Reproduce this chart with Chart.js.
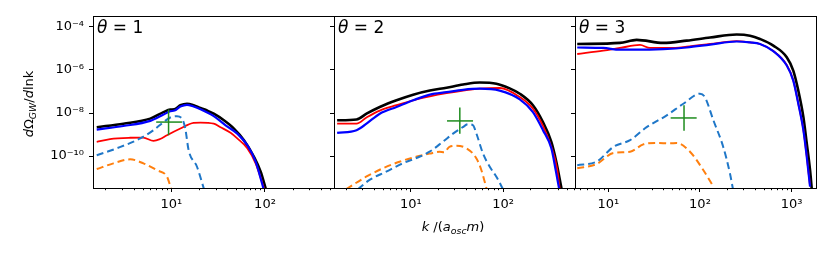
<!DOCTYPE html>
<html>
<head>
<meta charset="utf-8">
<script src="https://cdn.jsdelivr.net/npm/chart.js@4.4.1/dist/chart.umd.min.js"></script>
<style>
  html, body { margin: 0; padding: 0; background: #fff; }
  #wrap { position: relative; width: 830px; height: 260px; font-family: 'DejaVu Sans', sans-serif; color: #000; }
  canvas { position: absolute; left: 0; top: 0; }
  .lbl { position: absolute; white-space: nowrap; }
  .theta { font-size: 17px; top: 17px; }
  .axlab { font-size: 13px; text-align: center; height: 16px; line-height: 16px; }
  sub { font-size: 72%; vertical-align: -0.3em; line-height: 0; }
</style>
</head>
<body>
<div id="wrap">
  <canvas id="c1" width="830" height="260"></canvas>
  <canvas id="c2" width="830" height="260"></canvas>
  <canvas id="c3" width="830" height="260"></canvas>
  <div class="lbl theta" style="left:97px"><i>θ</i> = 1</div>
  <div class="lbl theta" style="left:338px"><i>θ</i> = 2</div>
  <div class="lbl theta" style="left:579px"><i>θ</i> = 3</div>
  <div class="lbl axlab" style="left:-31px; top:96px; width:120px; transform: rotate(-90deg);"><i>d</i>Ω<sub><i>GW</i></sub>/<i>d</i>lnk</div>
  <div class="lbl axlab" style="left:393px; top:219px; width:120px;"><i>k</i> /(<i>a</i><sub><i>osc</i></sub><i>m</i>)</div>
</div>
<script>
// axis ticks
const yTickValues = [1e-10, 1e-8, 1e-6, 1e-4];
const yTickLabels = ['10⁻¹⁰', '10⁻⁸', '10⁻⁶', '10⁻⁴'];
const xTickValues = [10, 100, 1000];
const xTickLabels = ['10¹', '10²', '10³'];

// panel x ranges (k) and shared y range
const xRange1 = [1.46, 545];
const xRange2 = [1.47, 603];
const xRange3 = [4.34, 1840];
const yRange = [3.3e-12, 3.2e-4];

// theta = 1  ([k, dOmega/dlnk])
const black1 = [[1.6,2.2e-9],[3.08,3.2e-9],[5.96,5.5e-9],[8.26,1.1e-8],[9.75,1.45e-8],[10.8,1.5e-8],[12.5,2.3e-8],[14.7,2.7e-8],[17.3,2.3e-8],[20.5,1.7e-8],[24.1,1.3e-8],[28.4,9.3e-9],[36.4,4.6e-9],[46.6,1.9e-9],[59.6,5.5e-10],[76.2,9.3e-11],[89.9,1.9e-11],[101.6,3.2e-12]];
const blue1 = [[1.6,1.7e-9],[3.08,2.5e-9],[5.96,4.3e-9],[8.26,8.5e-9],[9.75,1.2e-8],[10.8,1.3e-8],[12.5,2.0e-8],[14.7,2.4e-8],[17.3,2.0e-8],[20.5,1.5e-8],[28.4,7.2e-9],[38,2.7e-9],[50.6,1.1e-9],[64.7,3.2e-10],[79.4,5.5e-11],[96.2,3.2e-12]];
const red1 = [[1.6,4.6e-10],[2.22,6.2e-10],[3.64,7.1e-10],[5.01,7.2e-10],[6.46,5.1e-10],[7.59,6.2e-10],[9.0,9.3e-10],[12.5,1.9e-9],[17.3,3.5e-9],[20.5,3.6e-9],[28.4,3.2e-9],[33.5,2.2e-9],[42.9,1.2e-9],[50.6,6.6e-10],[64.7,2.3e-10],[79.4,4.6e-11],[93.8,5.5e-12],[97.5,3.2e-12]];
const dashBlue1 = [[1.6,1.1e-10],[2.62,2.3e-10],[4.66,6.6e-10],[6.46,1.6e-9],[8.28,3.8e-9],[9.75,6.2e-9],[11.5,7.1e-9],[13.0,5.5e-9],[14.1,1.9e-9],[15.3,1.9e-10],[18.8,3.2e-11],[22.2,3.2e-12]];
const dashOrange1 = [[1.6,2.5e-11],[2.41,4.6e-11],[3.64,7.1e-11],[5.05,4.6e-11],[7.03,2.2e-11],[9.0,1.1e-11],[9.93,3.2e-12]];

// theta = 2
const black2 = [[1.59,4.6e-9],[2.58,5.0e-9],[3.31,9.3e-9],[4.61,1.9e-8],[7.0,3.9e-8],[10.6,7.1e-8],[16.1,1.1e-7],[24.4,1.5e-7],[36.9,2.1e-7],[56,2.6e-7],[84.7,2.3e-7],[118,1.4e-7],[152,7.9e-8],[211,2.3e-8],[271,3.8e-9],[334,4.6e-10],[378,5.5e-11],[430,3.2e-12]];
const blue2 = [[1.59,1.2e-9],[2.58,1.6e-9],[3.31,3.2e-9],[4.61,9.3e-9],[7.0,1.9e-8],[10.6,3.9e-8],[16.1,7.2e-8],[24.4,9.3e-8],[36.9,1.2e-7],[56,1.35e-7],[92,1.1e-7],[152,4.3e-8],[211,1.1e-8],[271,1.6e-9],[334,2.3e-10],[375,1.9e-11],[405,3.2e-12]];
const red2 = [[1.59,3.2e-9],[2.58,3.2e-9],[3.31,6.2e-9],[4.61,1.3e-8],[7.0,2.3e-8],[10.6,3.9e-8],[16.1,5.9e-8],[24.4,8.3e-8],[36.9,1.1e-7],[56,1.35e-7],[92,1.45e-7],[152,5.5e-8],[211,1.6e-8],[271,2.5e-9],[334,2.7e-10],[385,2.7e-11],[411,3.2e-12]];
const dashBlue2 = [[2.67,2.9e-12],[3.57,7.8e-12],[5.41,1.9e-11],[8.18,4.6e-11],[12.4,9.3e-11],[16,1.6e-10],[22.2,4.6e-10],[28.7,1.1e-9],[36.6,2.2e-9],[41.7,3.0e-9],[47.3,2.7e-9],[51.5,1.1e-9],[60.7,1.3e-10],[71.8,3.2e-11],[84.7,1.1e-11],[100,2.9e-12]];
const dashOrange2 = [[1.99,2.9e-12],[3.28,1.1e-11],[4.98,2.7e-11],[7.55,5.5e-11],[11.4,9.3e-11],[16,1.3e-10],[20.5,1.6e-10],[23,1.5e-10],[26.2,2.7e-10],[31.3,3.0e-10],[40.1,2.3e-10],[51.5,7.8e-11],[58.3,2.2e-11],[66.1,3.2e-12]];

// theta = 3
const black3 = [[4.59,1.6e-5],[13.4,1.8e-5],[20.4,2.5e-5],[39.8,1.8e-5],[71.6,2.3e-5],[129,3.2e-5],[251,4.4e-5],[351,3.9e-5],[451,2.75e-5],[630,1.35e-5],[883,3.9e-6],[1040,9.3e-7],[1180,1.1e-7],[1340,6.6e-9],[1459,3.9e-10],[1585,2.2e-11],[1652,3.2e-12]];
const blue3 = [[4.59,1.1e-5],[8.81,1.05e-5],[13.4,8.7e-6],[20.4,8.7e-6],[39.8,9.3e-6],[71.6,1.1e-5],[129,1.5e-5],[251,2.1e-5],[351,1.9e-5],[451,1.6e-5],[630,7.4e-6],[883,1.6e-6],[1040,3.2e-7],[1180,2.7e-8],[1340,1.6e-9],[1459,9.3e-11],[1585,3.8e-12]];
const red3 = [[4.59,5.5e-6],[8.81,7.9e-6],[13.4,1.05e-5],[22.2,1.45e-5],[28.5,1.05e-5],[47.1,1.05e-5],[71.6,1.2e-5],[129,1.6e-5],[251,2.2e-5],[351,1.9e-5],[451,1.6e-5],[630,7.6e-6],[883,1.7e-6],[1040,3.3e-7],[1180,2.8e-8],[1340,1.7e-9],[1459,1.0e-10],[1585,4e-12]];
const dashBlue3 = [[4.59,3.8e-11],[7.46,5.5e-11],[11.4,2.7e-10],[17.3,5.5e-10],[26.2,2.2e-9],[43.4,7.8e-9],[65.8,2.7e-8],[100,7.9e-8],[113,5.5e-8],[140,4.6e-9],[179,2.7e-10],[212,1.6e-11],[228,3.2e-12]];
const dashOrange3 = [[4.59,2.7e-11],[7.46,4.3e-11],[11.4,1.4e-10],[17.3,1.6e-10],[24.1,3.5e-10],[33.7,4.1e-10],[47.1,3.9e-10],[55.7,4.1e-10],[77.8,1.6e-10],[109,2.2e-11],[140,3.8e-12]];

// green error crosses, one per panel
const crossK = [9.35, 34.0, 67.0];
const crossKLo = [6.9, 24.7, 47.9];
const crossKHi = [13.0, 47.3, 92.0];
const crossY = [3.8e-9, 4.3e-9, 5.9e-9];
const crossYLo = [9.3e-10, 1.1e-9, 1.5e-9];
const crossYHi = [1.45e-8, 1.8e-8, 2.3e-8];

const GREEN = '#1e8c1e';
const DBLUE = '#1f77c8';
const ORANGE = '#ff7f0e';

// draw the closed box round each panel
const framePlugin = {
  id: 'frame',
  afterDatasetsDraw(chart) {
    const { ctx, chartArea: a } = chart;
    ctx.save();
    ctx.strokeStyle = '#000';
    ctx.lineWidth = 1;
    ctx.strokeRect(Math.round(a.left) + 0.5, Math.round(a.top) + 0.5,
      Math.round(a.right - a.left), Math.round(a.bottom - a.top));
    ctx.restore();
  }
};

function minorTicks(range) {
  const out = [];
  for (let d = 1; d <= 1000; d *= 10) {
    for (let m = 2; m <= 9; m++) {
      const v = m * d;
      if (v > range[0] && v < range[1]) out.push(v);
    }
  }
  return out;
}

function makePanel(id, idx, xRange, left, right, curves) {
  const showY = idx === 0;
  const yWidth = showY ? 93 : 6;
  const majors = xTickValues.filter(v => v > xRange[0] && v < xRange[1]);
  const xTicks = majors.concat(minorTicks(xRange)).sort((a, b) => a - b);

  const line = (data, color, width, dash, smooth) => ({
    data, borderColor: color, borderWidth: width, borderDash: dash || [],
    pointRadius: 0, tension: 0, fill: false, clip: 0,
    cubicInterpolationMode: smooth ? 'monotone' : 'default'
  });

  // first dataset is drawn on top
  const datasets = [
    line([[crossKLo[idx], crossY[idx]], [crossKHi[idx], crossY[idx]]], GREEN, 1.5),
    line([[crossK[idx], crossYLo[idx]], [crossK[idx], crossYHi[idx]]], GREEN, 1.5),
    line(curves.dashBlue, DBLUE, 2, [7, 4], true),
    line(curves.dashOrange, ORANGE, 2, [7, 4], true),
    line(curves.blue, '#0000ff', 2.2, null, true),
    line(curves.red, '#ff0000', 1.8, null, true),
    line(curves.black, '#000000', 2.6, null, true)
  ];

  return new Chart(document.getElementById(id), {
    type: 'line',
    data: { datasets },
    plugins: [framePlugin],
    options: {
      responsive: false,
      animation: false,
      devicePixelRatio: 1,
      layout: { padding: { left: left - yWidth, right: 830 - right, top: 16, bottom: 260 - 188 - 40 } },
      plugins: { legend: { display: false }, tooltip: { enabled: false } },
      scales: {
        x: {
          type: 'logarithmic',
          min: xRange[0], max: xRange[1],
          border: { display: false },
          grid: {
            drawOnChartArea: false, tickLength: 4, tickColor: '#000', tickWidth: 1,
            tickBorderDash: (c) => (c.tick && xTickValues.includes(c.tick.value)) ? [] : [2.2, 20]
          },
          afterBuildTicks: (s) => { s.ticks = xTicks.map(v => ({ value: v })); },
          afterFit: (s) => { s.height = 40; },
          ticks: {
            autoSkip: false, maxRotation: 0, minRotation: 0, padding: 5, color: '#000',
            font: { family: 'DejaVu Sans', size: 13 },
            callback: (v) => { const i = xTickValues.indexOf(v); return i >= 0 ? xTickLabels[i] : ''; }
          }
        },
        y: {
          type: 'logarithmic',
          min: yRange[0], max: yRange[1],
          border: { display: false },
          grid: { drawOnChartArea: false, tickLength: 4, tickColor: '#000', tickWidth: 1 },
          afterBuildTicks: (s) => { s.ticks = yTickValues.map(v => ({ value: v })); },
          afterFit: (s) => { s.width = yWidth; },
          ticks: {
            display: showY, autoSkip: false, padding: 5, color: '#000',
            font: { family: 'DejaVu Sans', size: 13 },
            callback: (v) => { const i = yTickValues.indexOf(v); return i >= 0 ? yTickLabels[i] : ''; }
          }
        }
      }
    }
  });
}

makePanel('c1', 0, xRange1, 93, 334, { black: black1, blue: blue1, red: red1, dashBlue: dashBlue1, dashOrange: dashOrange1 });
makePanel('c2', 1, xRange2, 334, 575, { black: black2, blue: blue2, red: red2, dashBlue: dashBlue2, dashOrange: dashOrange2 });
makePanel('c3', 2, xRange3, 575, 816, { black: black3, blue: blue3, red: red3, dashBlue: dashBlue3, dashOrange: dashOrange3 });
</script>
</body>
</html>
